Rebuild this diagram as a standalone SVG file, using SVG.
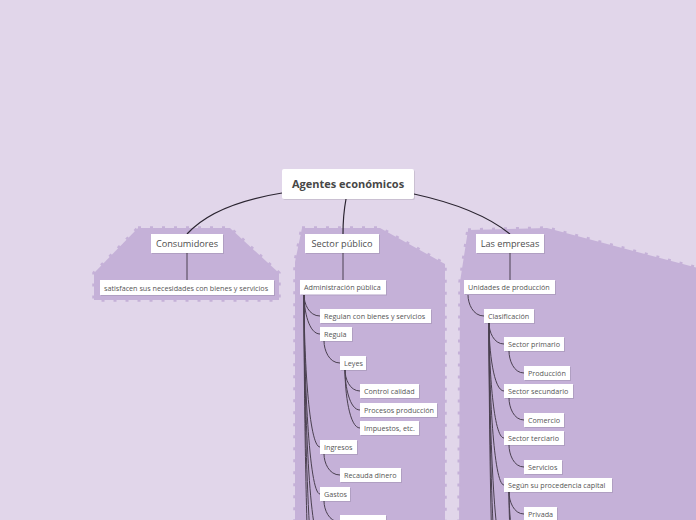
<svg xmlns="http://www.w3.org/2000/svg" width="696" height="520" viewBox="0 0 696 520">
<style>
.bnd{fill:#c5b1d8;stroke:#c5b1d8;stroke-width:3.5;stroke-dasharray:3 9;stroke-linejoin:round}
.box{fill:#fff}
.sh{fill:#000;opacity:0.1}
.c0{fill:none;stroke:#2a2430;stroke-width:1.2}
.c{fill:none;stroke:#4a4050;stroke-width:1}
.t0{font-family:"Open Sans","Noto Sans",sans-serif;font-size:11px;font-weight:bold;fill:#474747;text-anchor:middle}
.t1{font-family:"Open Sans","Noto Sans",sans-serif;font-size:9.2px;fill:#4d4d4d;text-anchor:middle}
.t2{font-family:"Open Sans","Noto Sans",sans-serif;font-size:7.2px;fill:#555}
</style>
<rect width="696" height="520" fill="#e1d6ea"/>
<g id="boundaries">
<polygon class="bnd" points="138,228 230,228 279,273 279,300 94,300 94,273"/>
<polygon class="bnd" points="302,228 380,228 445,264 445,530 295,530 295,262"/>
<polygon class="bnd" points="468,230 547,228 705,270 705,530 459,530 460,282"/>
</g>
<g id="connectors">
<path class="c0" d="M282 193 Q214 204 187 234"/>
<path class="c0" d="M346 199 Q343 215 343 234"/>
<path class="c0" d="M414 194 Q478 208 510 234"/>
<path class="c" d="M187 253 V280"/>
<path class="c" d="M343 253 V280"/>
<path class="c" d="M510 253 V280"/>
<path class="c" d="M304 295 C304 303.4 308.8 316 320 316"/>
<path class="c" d="M304 295 C304 310.6 308.8 334 320 334"/>
<path class="c" d="M304 295 C304 355.8 308.8 447 320 447"/>
<path class="c" d="M304 295 C304 374.6 308.8 494 320 494"/>
<path class="c" d="M304 295 C304 393 308.8 540 320 540"/>
<path class="c" d="M304 295 C304 417 308.8 600 320 600"/>
<path class="c" d="M304 295 C304 453 308.8 690 320 690"/>
<path class="c" d="M324 341 C324 349.8 328.8 363 340 363"/>
<path class="c" d="M345 370 C345 378.4 349.5 391 360 391"/>
<path class="c" d="M345 370 C345 386 349.5 410 360 410"/>
<path class="c" d="M345 370 C345 393.2 349.5 428 360 428"/>
<path class="c" d="M324 454 C324 462.4 328.8 475 340 475"/>
<path class="c" d="M324 501 C324 509.4 328.8 522 340 522"/>
<path class="c" d="M468 295 C468 303.4 472.8 316 484 316"/>
<path class="c" d="M489 323 C489 331.4 493.5 344 504 344"/>
<path class="c" d="M489 323 C489 350.2 493.5 391 504 391"/>
<path class="c" d="M489 323 C489 369 493.5 438 504 438"/>
<path class="c" d="M489 323 C489 387.8 493.5 485 504 485"/>
<path class="c" d="M489 323 C489 411 493.5 555 504 555"/>
<path class="c" d="M489 323 C489 436 493.5 620 504 620"/>
<path class="c" d="M489 323 C489 471 493.5 705 504 705"/>
<path class="c" d="M509 351 C509 359.8 513.5 373 524 373"/>
<path class="c" d="M509 398 C509 406.8 513.5 420 524 420"/>
<path class="c" d="M509 445 C509 453.8 513.5 467 524 467"/>
<path class="c" d="M509 492 C509 500.8 513.5 514 524 514"/>
<path class="c" d="M509 492 C509 519 513.5 560 524 560"/>
<path class="c" d="M509 492 C509 538 513.5 607 524 607"/>
</g>
<g id="n-agentes"><rect class="sh" x="283" y="170" width="132" height="30" rx="2"/><rect class="box" x="282" y="169" width="132" height="30" rx="2"/><text class="t0" x="348" y="188">Agentes económicos</text></g>
<g id="n-consumidores"><rect class="sh" x="152" y="235" width="72" height="19"/><rect class="box" x="151" y="234" width="72" height="19"/><text class="t1" x="187" y="246.8">Consumidores</text></g>
<g id="n-sector"><rect class="sh" x="306" y="235" width="74" height="19"/><rect class="box" x="305" y="234" width="74" height="19"/><text class="t1" x="342" y="246.8">Sector público</text></g>
<g id="n-empresas"><rect class="sh" x="477" y="235" width="68" height="19"/><rect class="box" x="476" y="234" width="68" height="19"/><text class="t1" x="510" y="246.8">Las empresas</text></g>
<g id="n-satisfacen"><rect class="sh" x="101" y="281" width="174" height="15"/><rect class="box" x="100" y="280" width="174" height="15"/><text class="t2" x="104" y="290.5">satisfacen sus necesidades con bienes y servicios</text></g>
<g id="n-admin"><rect class="sh" x="301" y="281" width="86" height="14.5"/><rect class="box" x="300" y="280" width="86" height="14.5"/><text class="t2" x="304" y="290.3">Administración pública</text></g>
<g id="n-regulan"><rect class="sh" x="321" y="310" width="111" height="14"/><rect class="box" x="320" y="309" width="111" height="14"/><text class="t2" x="324" y="318.8">Regulan con bienes y servicios</text></g>
<g id="n-regula"><rect class="sh" x="321" y="328" width="32" height="14"/><rect class="box" x="320" y="327" width="32" height="14"/><text class="t2" x="324" y="336.8">Regula</text></g>
<g id="n-leyes"><rect class="sh" x="341" y="357" width="26" height="14"/><rect class="box" x="340" y="356" width="26" height="14"/><text class="t2" x="344" y="365.8">Leyes</text></g>
<g id="n-control"><rect class="sh" x="361" y="385" width="59" height="14"/><rect class="box" x="360" y="384" width="59" height="14"/><text class="t2" x="364" y="393.8">Control calidad</text></g>
<g id="n-procesos"><rect class="sh" x="361" y="404" width="77" height="14"/><rect class="box" x="360" y="403" width="77" height="14"/><text class="t2" x="364" y="412.8">Procesos producción</text></g>
<g id="n-impuestos"><rect class="sh" x="361" y="422" width="59" height="14"/><rect class="box" x="360" y="421" width="59" height="14"/><text class="t2" x="364" y="430.8">Impuestos, etc.</text></g>
<g id="n-ingresos"><rect class="sh" x="321" y="441" width="37" height="14"/><rect class="box" x="320" y="440" width="37" height="14"/><text class="t2" x="324" y="449.8">Ingresos</text></g>
<g id="n-recauda"><rect class="sh" x="341" y="469" width="61" height="14"/><rect class="box" x="340" y="468" width="61" height="14"/><text class="t2" x="344" y="477.8">Recauda dinero</text></g>
<g id="n-gastos"><rect class="sh" x="321" y="488" width="30" height="14"/><rect class="box" x="320" y="487" width="30" height="14"/><text class="t2" x="324" y="496.8">Gastos</text></g>
<g id="n-gastos-child"><rect class="sh" x="341" y="516" width="46" height="14"/><rect class="box" x="340" y="515" width="46" height="14"/></g>
<g id="n-unidades"><rect class="sh" x="465" y="281" width="91" height="14"/><rect class="box" x="464" y="280" width="91" height="14"/><text class="t2" x="468" y="290">Unidades de producción</text></g>
<g id="n-clasif"><rect class="sh" x="485" y="310" width="50" height="14"/><rect class="box" x="484" y="309" width="50" height="14"/><text class="t2" x="488" y="318.8">Clasificación</text></g>
<g id="n-primario"><rect class="sh" x="505" y="338" width="60" height="14"/><rect class="box" x="504" y="337" width="60" height="14"/><text class="t2" x="508" y="346.8">Sector primario</text></g>
<g id="n-produccion"><rect class="sh" x="525" y="367" width="46" height="14"/><rect class="box" x="524" y="366" width="46" height="14"/><text class="t2" x="528" y="375.8">Producción</text></g>
<g id="n-secundario"><rect class="sh" x="505" y="385" width="69" height="14"/><rect class="box" x="504" y="384" width="69" height="14"/><text class="t2" x="508" y="393.8">Sector secundario</text></g>
<g id="n-comercio"><rect class="sh" x="525" y="414" width="40" height="14"/><rect class="box" x="524" y="413" width="40" height="14"/><text class="t2" x="528" y="422.8">Comercio</text></g>
<g id="n-terciario"><rect class="sh" x="505" y="432" width="60" height="14"/><rect class="box" x="504" y="431" width="60" height="14"/><text class="t2" x="508" y="440.8">Sector terciario</text></g>
<g id="n-servicios"><rect class="sh" x="525" y="461" width="38" height="14"/><rect class="box" x="524" y="460" width="38" height="14"/><text class="t2" x="528" y="469.8">Servicios</text></g>
<g id="n-segun"><rect class="sh" x="505" y="479" width="108" height="14"/><rect class="box" x="504" y="478" width="108" height="14"/><text class="t2" x="508" y="487.8">Según su procedencia capital</text></g>
<g id="n-privada"><rect class="sh" x="525" y="508" width="33" height="14"/><rect class="box" x="524" y="507" width="33" height="14"/><text class="t2" x="528" y="516.8">Privada</text></g>
</svg>
